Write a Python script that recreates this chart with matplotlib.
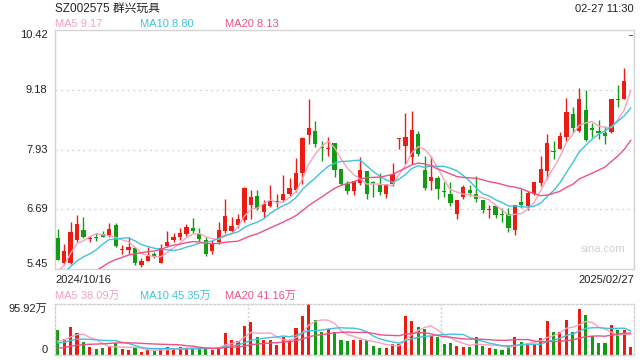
import matplotlib
matplotlib.use("Agg")
import matplotlib.pyplot as plt
import numpy as np
import pandas as pd

plt.rcParams["font.family"] = ["Liberation Sans", "Noto Sans CJK SC", "DejaVu Sans"]

# daily K-line, 2024/10/16 .. 2025/02/27 (price in CNY, volume in 万手)
open_ = [6.09, 5.57, 5.57, 6.05, 6.26, 6.08, 6.11, 6.17, 6.15, 6.36,
         5.84, 5.84, 5.88, 5.53, 5.62, 5.75, 5.58, 5.93, 6.05, 6.11,
         6.17, 6.30, 6.17, 6.05, 5.83, 6.02, 6.24, 6.24, 6.36, 6.46,
         6.79, 6.96, 6.64, 6.77, 6.84, 6.89, 7.00, 7.10, 7.44, 8.24,
         8.33, 7.99, 7.94, 8.06, 7.53, 7.21, 7.07, 7.24, 7.48, 7.26,
         7.19, 7.02, 7.22, 8.15, 8.00, 7.77, 8.26, 7.50, 7.29, 7.35,
         7.06, 7.00, 6.60, 6.95, 7.10, 7.02, 6.89, 6.68, 6.77, 6.58,
         6.59, 6.27, 6.84, 6.75, 7.02, 7.24, 7.48, 7.91, 7.95, 8.20,
         8.68, 8.31, 8.75, 8.37, 8.31, 8.27, 8.29, 8.99, 8.99, 10.30]
high = [6.28, 5.98, 6.43, 6.57, 6.53, 6.14, 6.19, 6.24, 6.41, 6.41,
        5.95, 6.12, 5.91, 5.67, 5.91, 5.81, 5.97, 6.24, 6.19, 6.31,
        6.38, 6.51, 6.30, 6.12, 6.05, 6.43, 6.91, 6.53, 6.60, 7.15,
        7.10, 7.10, 6.89, 7.20, 7.00, 7.41, 7.35, 7.76, 8.19, 8.98,
        8.53, 8.12, 8.20, 8.06, 7.53, 7.29, 7.29, 7.77, 7.48, 7.29,
        7.44, 7.21, 7.66, 8.17, 8.70, 8.74, 8.32, 7.81, 7.81, 7.39,
        7.26, 7.26, 6.89, 7.19, 7.19, 7.38, 6.89, 6.79, 6.79, 6.71,
        6.71, 6.79, 7.12, 7.08, 7.25, 7.79, 8.26, 8.12, 8.29, 9.01,
        8.81, 9.22, 9.17, 8.48, 8.55, 8.43, 8.99, 9.28, 9.62, 10.30]
low = [5.63, 5.53, 5.55, 6.01, 6.09, 6.02, 6.04, 6.11, 6.12, 5.91,
       5.77, 5.77, 5.53, 5.49, 5.62, 5.67, 5.57, 5.91, 6.02, 6.05,
       6.14, 6.20, 6.04, 5.73, 5.76, 5.97, 6.19, 6.19, 6.31, 6.43,
       6.50, 6.67, 6.52, 6.74, 6.74, 6.84, 6.97, 7.05, 7.22, 8.05,
       7.98, 7.69, 7.79, 7.37, 7.19, 7.00, 6.98, 7.19, 6.91, 6.95,
       6.98, 6.93, 7.17, 7.95, 7.64, 7.64, 7.79, 7.10, 7.10, 6.91,
       6.95, 6.75, 6.48, 6.91, 6.96, 6.84, 6.61, 6.52, 6.52, 6.43,
       6.22, 6.15, 6.71, 6.67, 6.98, 7.17, 7.33, 7.74, 7.94, 8.12,
       8.27, 8.30, 8.12, 8.19, 8.15, 8.04, 8.28, 8.81, 8.99, 10.30]
close = [5.64, 5.82, 6.22, 6.38, 6.12, 6.09, 6.10, 6.12, 6.28, 5.93,
         5.85, 5.90, 5.57, 5.62, 5.72, 5.73, 5.88, 6.02, 6.11, 6.19,
         6.32, 6.24, 6.08, 5.77, 5.99, 6.26, 6.55, 6.34, 6.48, 7.13,
         6.94, 6.69, 6.81, 6.86, 6.85, 7.02, 7.14, 7.44, 8.18, 8.38,
         8.05, 7.97, 7.95, 7.51, 7.22, 7.07, 7.29, 7.50, 7.00, 7.24,
         7.05, 7.21, 7.42, 8.16, 8.20, 8.34, 7.85, 7.13, 7.37, 7.12,
         7.05, 6.82, 6.89, 7.15, 7.03, 6.91, 6.67, 6.69, 6.57, 6.57,
         6.31, 6.79, 6.78, 7.04, 7.25, 7.52, 8.06, 7.89, 8.21, 8.72,
         8.39, 8.99, 8.13, 8.35, 8.27, 8.22, 8.98, 8.97, 9.36, 10.30]
volume = [47.0, 29.5, 52.7, 42.0, 24.5, 15.0, 11.3, 13.2, 15.6, 22.0,
          11.3, 10.0, 13.7, 6.2, 8.8, 7.5, 11.3, 15.0, 11.3, 15.0,
          12.6, 13.7, 13.7, 12.6, 10.0, 15.0, 42.0, 28.2, 25.7, 55.1,
          62.0, 33.9, 28.8, 28.8, 18.8, 33.9, 28.8, 51.4, 73.3, 95.92,
          65.8, 43.8, 48.3, 43.8, 28.2, 26.3, 28.2, 28.2, 27.6, 16.9,
          13.2, 13.2, 20.7, 20.7, 73.3, 64.0, 52.7, 48.9, 35.7, 33.9,
          20.7, 22.6, 16.9, 15.0, 15.0, 33.9, 16.9, 13.2, 11.3, 9.4,
          17.4, 34.4, 25.0, 20.6, 21.2, 32.5, 64.5, 43.8, 43.8, 66.5,
          43.2, 86.4, 75.1, 35.7, 22.65, 23.1, 56.9, 47.5, 47.5, 15.45]

# sessions before the window, only used to seed the moving averages
prior_close = [3.85, 3.90, 3.95, 4.00, 4.15, 4.30, 4.45, 4.60, 4.75, 4.90,
               4.95, 5.05, 5.15, 5.30, 5.45, 5.25, 4.95, 5.35, 5.85]
prior_volume = [3, 3, 3, 3, 3, 3, 3, 3, 3, 3, 15, 18, 20, 22, 20, 20, 22, 20, 21]

price_ticks = [5.45, 6.69, 7.93, 9.18, 10.42]
vol_top = 95.92
date_first = "2024/10/16"
date_last = "2025/02/27"
title = "SZ002575 群兴玩具"
stamp = "02-27 11:30"

RED = "#ec1b14"
GREEN = "#139c13"
MA_COLORS = {5: "#f8a2be", 10: "#3fc3de", 20: "#ee5187"}
GRID = "#d9d9d9"


def moving_averages(prior, values, windows=(5, 10, 20)):
    s = pd.Series(list(prior) + list(values), dtype=float)
    n = len(values)
    return {w: s.rolling(w).mean().to_numpy()[-n:] for w in windows}


o = np.array(open_)
h = np.array(high)
l = np.array(low)
c = np.array(close)
v = np.array(volume)
x = np.arange(len(c))

prev = np.r_[c[0], c[:-1]]
up = (c > o) | ((c == o) & (c >= prev))
colors = np.where(up, RED, GREEN)

ma_p = moving_averages(prior_close, c)
ma_v = moving_averages(prior_volume, v)

fig = plt.figure(figsize=(6.4, 3.6), dpi=100)
W, H = 640.0, 360.0
left, right = 54.5 / W, 634 / W
ax = fig.add_axes([left, 1 - 269 / H, right - left, (269 - 30) / H])
axv = fig.add_axes([left, 1 - 355 / H, right - left, (355 - 304) / H])

# price panel
ax.vlines(x, l, h, colors=colors, linewidth=1.0, zorder=2)
body_lo = np.minimum(o, c)
body_h = np.maximum(np.abs(c - o), 0.022)
ax.bar(x, body_h, bottom=body_lo, width=0.66, color=colors, linewidth=0, zorder=3)
for w in (5, 10, 20):
    ax.plot(x, ma_p[w], color=MA_COLORS[w], linewidth=1.0, zorder=4)

ax.set_xlim(-0.5, len(c) - 0.5)
ax.set_ylim(price_ticks[0], price_ticks[-1])
for t in price_ticks[1:-1]:
    ax.axhline(t, color=GRID, linewidth=1.0, linestyle=(0, (1.5, 2.5)), zorder=1)
ax.set_xticks([])
ax.set_yticks([])
for sp in ax.spines.values():
    sp.set_color("#d4d4d4")
    sp.set_linewidth(1.0)

for t in price_ticks:
    va = "center"
    if t == price_ticks[-1]:
        va = "top"
    elif t == price_ticks[0]:
        va = "bottom"
    ax.text(-0.012, t, f"{t:.2f}", transform=ax.get_yaxis_transform(),
            ha="right", va=va, fontsize=8, color="#222222")

ax.text(0.985, 0.085, "sina.com", transform=ax.transAxes, ha="right", va="center",
        fontsize=8, color="#d0d0d0")

# volume panel
axv.bar(x, v, width=0.48, color=colors, linewidth=0, zorder=2)
for w in (5, 10, 20):
    axv.plot(x, ma_v[w], color=MA_COLORS[w], linewidth=1.0, zorder=3)
axv.set_xlim(-0.5, len(c) - 0.5)
axv.set_ylim(0, vol_top)
axv.set_xticks([])
axv.set_yticks([])
for sp in axv.spines.values():
    sp.set_color("#cfcfcf")
    sp.set_linestyle((0, (1.5, 1.5)))
    sp.set_linewidth(1.0)
for frac in (1 / 3, 2 / 3):
    axv.axvline(-0.5 + frac * len(c), color="#cfcfcf", linewidth=1.0,
                linestyle=(0, (1.5, 1.5)), zorder=1)
axv.text(-0.012, 1.0, f"{vol_top:.2f}万", transform=axv.transAxes, ha="right", va="top",
         fontsize=8, color="#222222")
axv.text(-0.012, 0.0, "0", transform=axv.transAxes, ha="right", va="bottom",
         fontsize=8, color="#222222")

# header and legends
fig.text(55 / W, 1 - 9 / H, title, ha="left", va="center", fontsize=8.5, color="#222222")
fig.text(634 / W, 1 - 9 / H, stamp, ha="right", va="center", fontsize=8, color="#222222")
legend_x = [55, 140, 225]
for lx, w in zip(legend_x, (5, 10, 20)):
    fig.text(lx / W, 1 - 24 / H, f"MA{w} {ma_p[w][-1]:.2f}", ha="left", va="center",
             fontsize=8, color=MA_COLORS[w])
    fig.text(lx / W, 1 - 296 / H, f"MA{w} {ma_v[w][-1]:.2f}万", ha="left", va="center",
             fontsize=8, color=MA_COLORS[w])
fig.text(55 / W, 1 - 280 / H, date_first, ha="left", va="center", fontsize=8, color="#222222")
fig.text(634 / W, 1 - 280 / H, date_last, ha="right", va="center", fontsize=8, color="#222222")

fig.savefig("out.png", dpi=100)
plt.close(fig)
